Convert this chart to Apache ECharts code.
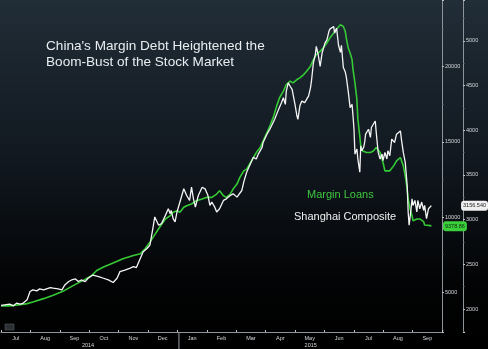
<!DOCTYPE html>
<html><head><meta charset="utf-8">
<script src="https://cdn.jsdelivr.net/npm/echarts@6/dist/echarts.min.js"></script>
<style>html,body{margin:0;padding:0;background:#000}#c{width:488px;height:349px}</style>
</head><body><div id="c"></div>
<script>
const monthLabels = ['Jul','Aug','Sep','Oct','Nov','Dec','Jan','Feb','Mar','Apr','May','Jun','Jul','Aug','Sep'];
const yearLabels  = ['','','2014','','','','','','','','2015','','','',''];
const titleText = "China's Margin Debt Heightened the\nBoom-Bust of the Stock Market";
const legendNames = ['Margin Loans','Shanghai Composite'];
const lastLabels = ['9378.86','3156.540'];

const shDates = ['2014-07-01','2014-07-10','2014-07-14','2014-07-17','2014-07-21','2014-07-24','2014-07-28','2014-07-31','2014-08-03','2014-08-07','2014-08-10','2014-08-14','2014-08-21','2014-08-24','2014-08-29','2014-09-02','2014-09-05','2014-09-09','2014-09-12','2014-09-16','2014-09-19','2014-09-22','2014-09-26','2014-09-29','2014-10-04','2014-10-10','2014-10-15','2014-10-20','2014-10-25','2014-10-29','2014-11-01','2014-11-06','2014-11-11','2014-11-15','2014-11-18','2014-11-22','2014-11-25','2014-11-29','2014-12-02','2014-12-05','2014-12-07','2014-12-11','2014-12-14','2014-12-18','2014-12-21','2014-12-23','2014-12-24','2014-12-26','2014-12-28','2014-12-30','2015-01-02','2015-01-06','2015-01-07','2015-01-09','2015-01-12','2015-01-14','2015-01-16','2015-01-18','2015-01-19','2015-01-21','2015-01-25','2015-01-28','2015-01-31','2015-02-02','2015-02-04','2015-02-07','2015-02-09','2015-02-12','2015-02-16','2015-02-19','2015-02-23','2015-02-26','2015-03-02','2015-03-03','2015-03-07','2015-03-09','2015-03-12','2015-03-15','2015-03-19','2015-03-22','2015-03-24','2015-03-28','2015-03-29','2015-04-02','2015-04-05','2015-04-07','2015-04-10','2015-04-14','2015-04-15','2015-04-17','2015-04-19','2015-04-21','2015-04-22','2015-04-24','2015-04-26','2015-04-28','2015-04-29','2015-05-01','2015-05-03','2015-05-04','2015-05-06','2015-05-08','2015-05-10','2015-05-11','2015-05-15','2015-05-17','2015-05-18','2015-05-20','2015-05-22','2015-05-23','2015-05-25','2015-05-27','2015-05-29','2015-05-30','2015-06-01','2015-06-03','2015-06-05','2015-06-06','2015-06-08','2015-06-10','2015-06-11','2015-06-13','2015-06-15','2015-06-17','2015-06-18','2015-06-20','2015-06-22','2015-06-23','2015-06-25','2015-06-27','2015-06-29','2015-06-30','2015-07-01','2015-07-02','2015-07-04','2015-07-05','2015-07-07','2015-07-08','2015-07-09','2015-07-11','2015-07-12','2015-07-13','2015-07-15','2015-07-16','2015-07-18','2015-07-19','2015-07-21','2015-07-23','2015-07-24','2015-07-26','2015-07-28','2015-07-30','2015-07-31','2015-08-02','2015-08-04','2015-08-05','2015-08-07','2015-08-09','2015-08-11','2015-08-12','2015-08-14','2015-08-16','2015-08-18','2015-08-19','2015-08-21','2015-08-23','2015-08-25','2015-08-26','2015-08-27','2015-08-29','2015-08-30','2015-08-31','2015-09-02','2015-09-04','2015-09-05','2015-09-07','2015-09-09','2015-09-11','2015-09-12','2015-09-14','2015-09-16','2015-09-18','2015-09-19'];
const shValues = [2041,2056,2037,2067,2056,2067,2104,2197,2215,2204,2226,2215,2241,2234,2226,2215,2270,2308,2326,2337,2308,2326,2308,2345,2381,2364,2345,2326,2297,2345,2419,2437,2456,2475,2464,2567,2641,2678,2715,2900,3030,2937,2956,3048,3122,3067,3104,3011,2975,3086,3197,3345,3363,3270,3215,3363,3233,3141,3122,3270,3363,3345,3270,3159,3197,3141,3086,3122,3215,3233,3270,3289,3252,3270,3326,3419,3530,3603,3697,3678,3733,3808,3863,3956,4011,3992,4122,4233,4215,4308,4363,4289,4437,4530,4492,4456,4437,4289,4159,4122,4270,4326,4344,4308,4381,4474,4548,4752,4844,4937,4844,4714,4863,4900,4974,5011,5103,5130,5122,5159,5086,5141,4950,4870,4950,4700,4650,4600,4437,4252,4289,4159,4011,3733,3789,3678,3530,3826,3770,3808,3863,3956,3937,4011,3919,4030,4048,4103,3974,3752,3678,3733,3659,3752,3678,3770,3715,3900,3919,3863,3956,3974,3992,3900,3752,3641,3381,3086,2937,3122,3233,3159,3215,3086,3215,3122,3197,3104,3159,3011,3122,3104,3156.54];

const mlDates = ['2014-07-01','2014-07-10','2014-07-21','2014-07-28','2014-08-03','2014-08-14','2014-08-24','2014-09-03','2014-09-14','2014-09-24','2014-10-03','2014-10-08','2014-10-15','2014-10-25','2014-11-04','2014-11-15','2014-11-22','2014-11-27','2014-12-02','2014-12-12','2014-12-18','2014-12-23','2014-12-26','2014-12-30','2015-01-02','2015-01-06','2015-01-09','2015-01-14','2015-01-19','2015-01-25','2015-01-30','2015-02-04','2015-02-09','2015-02-12','2015-02-16','2015-02-19','2015-02-23','2015-02-26','2015-03-02','2015-03-05','2015-03-09','2015-03-12','2015-03-15','2015-03-19','2015-03-22','2015-03-26','2015-03-29','2015-04-02','2015-04-05','2015-04-09','2015-04-12','2015-04-15','2015-04-19','2015-04-22','2015-04-26','2015-04-29','2015-05-03','2015-05-06','2015-05-10','2015-05-13','2015-05-17','2015-05-20','2015-05-23','2015-05-27','2015-05-30','2015-06-03','2015-06-06','2015-06-10','2015-06-13','2015-06-17','2015-06-18','2015-06-20','2015-06-22','2015-06-23','2015-06-25','2015-06-27','2015-06-29','2015-06-30','2015-07-02','2015-07-04','2015-07-05','2015-07-07','2015-07-08','2015-07-10','2015-07-11','2015-07-14','2015-07-18','2015-07-21','2015-07-24','2015-07-26','2015-07-28','2015-07-30','2015-07-31','2015-08-02','2015-08-04','2015-08-07','2015-08-09','2015-08-11','2015-08-14','2015-08-18','2015-08-19','2015-08-21','2015-08-23','2015-08-25','2015-08-26','2015-08-28','2015-08-30','2015-08-31','2015-09-02','2015-09-04','2015-09-05','2015-09-07','2015-09-09','2015-09-11','2015-09-12','2015-09-14','2015-09-18','2015-09-19'];
const mlValues = [4092,4092,4178,4244,4357,4575,4794,5059,5455,5787,6118,6449,6675,6939,7223,7442,7554,7885,8329,9322,9871,10090,10315,10421,10315,10646,10752,10864,11083,11195,11308,11308,11526,11745,11414,11308,11526,11857,12188,12632,13069,13181,13512,13956,14287,14618,15055,15611,16052,16710,17372,17928,18365,18808,19027,18921,19139,19252,19470,19689,20020,20463,20794,21013,21238,21569,21900,22231,22500,22780,22780,22668,22337,21900,21238,20907,20463,19801,18921,17815,16491,15386,14724,14393,14393,14287,14287,14393,14618,14505,14287,13843,13625,13069,13069,13069,13181,13400,13731,13956,13843,13400,12738,11857,11195,10533,10090,9759,9759,9871,9759,9871,9759,9693,9474,9428,9428,9378.86];

const chart = echarts.init(document.getElementById('c'), null, {renderer:'canvas'});
const axisCol = '#8c9399';
const lblCol = '#d4d8dc';
const fontFam = 'Liberation Sans, Arial, sans-serif';
const plain = v => String(v);

const option = {
  animation: false,
  backgroundColor: {type:'linear', x:0, y:0, x2:0, y2:1, colorStops:[
    {offset:0, color:'#212d37'}, {offset:0.45, color:'#111820'}, {offset:0.8, color:'#030405'}, {offset:1, color:'#000000'}]},
  title: [
    {text: titleText, left: 46, top: 38, padding: 0, textStyle:{color:'#e8edf0', fontFamily:'Liberation Sans', fontWeight:'normal', fontSize:13.6, lineHeight:16}},
    {text: legendNames[0], left: 307, top: 189, padding: 0, textStyle:{color:'#3fc83f', fontFamily:'Liberation Sans', fontWeight:'normal', fontSize:11}},
    {text: legendNames[1], left: 294, top: 211, padding: 0, textStyle:{color:'#f0f0f0', fontFamily:'Liberation Sans', fontWeight:'normal', fontSize:11}}
  ],
  grid: {left: 1, right: 46, top: 0, bottom: 15, containLabel: false},
  xAxis: [
    {type:'category', data: monthLabels, boundaryGap: true, position:'bottom',
     axisLine:{lineStyle:{color:axisCol, width:1}},
     axisTick:{show:true, inside:true, length:2, lineStyle:{color:'#c0c4c8'}},
     axisLabel:{interval:0, hideOverlap:false, color:lblCol, fontSize:5.5, fontFamily:fontFam, margin:3, lineHeight:7,
       formatter:(v, i) => yearLabels[i] ? v + '\n{y' + i + '|' + yearLabels[i] + '}' : v,
       rich:{ y2:{fontSize:5.5, color:lblCol, fontFamily:fontFam, lineHeight:7, padding:[0,0,0,27]},
              y10:{fontSize:5.5, color:lblCol, fontFamily:fontFam, lineHeight:7, padding:[0,0,0,2]} }},
     splitLine:{show:false}},
    {type:'time', min:'2014-07-01', max:'2015-09-30', show:false}
  ],
  yAxis: [
    {type:'value', position:'right', offset:21, min:1744, max:5456, splitNumber:7,
     axisLine:{show:true, lineStyle:{color:axisCol}},
     axisTick:{show:true, length:2, lineStyle:{color:'#c0c4c8'}},
     minorTick:{show:true, splitNumber:2, length:1.5, lineStyle:{color:'#6a7076'}},
     axisLabel:{color:lblCol, fontSize:5.5, fontFamily:fontFam, margin:3, showMinLabel:false, showMaxLabel:false, formatter: plain},
     splitLine:{show:false},
     axisPointer:{show:true, status:'show', value:3156.54, triggerTooltip:false, snap:false,
       lineStyle:{opacity:0}, label:{show:true, formatter:()=>lastLabels[1], backgroundColor:'#f0f0f0', color:'#222', fontSize:5.5, fontFamily:fontFam, padding:[2,2], margin:0}}},
    {type:'value', position:'right', offset:0, min:2357, max:24427, splitNumber:4,
     axisLine:{show:true, lineStyle:{color:axisCol}},
     axisTick:{show:true, length:2, lineStyle:{color:'#c0c4c8'}},
     minorTick:{show:true, splitNumber:2, length:1.5, lineStyle:{color:'#6a7076'}},
     axisLabel:{color:lblCol, fontSize:5.5, fontFamily:fontFam, margin:3, showMinLabel:false, showMaxLabel:false, formatter: plain},
     splitLine:{show:false},
     axisPointer:{show:true, status:'show', value:9378.86, triggerTooltip:false, snap:false,
       lineStyle:{opacity:0}, label:{show:true, formatter:()=>lastLabels[0], backgroundColor:'#3ccf3c', color:'#0a2a0a', fontSize:5.5, fontFamily:fontFam, padding:[2,2], margin:1}}}
  ],
  series: [
    {name: legendNames[0], type:'line', xAxisIndex:1, yAxisIndex:1, showSymbol:false, symbol:'none',
     data: mlDates.map((d,i)=>[d, mlValues[i]]), lineStyle:{color:'#35c935', width:1.6}, z:2},
    {name: legendNames[1], type:'line', xAxisIndex:1, yAxisIndex:0, showSymbol:false, symbol:'none',
     data: shDates.map((d,i)=>[d, shValues[i]]), lineStyle:{color:'#f4f4f4', width:1.3}, z:3}
  ]
};
chart.setOption(option);

// year separator tick at the start of 2015, placed through the time scale
const xJan = chart.convertToPixel({xAxisIndex:1}, '2015-01-01');
const yBase = chart.convertToPixel({yAxisIndex:0}, 1744);
chart.setOption({graphic:[
  {type:'line', shape:{x1:xJan, y1:yBase, x2:xJan, y2:349}, style:{stroke:'#9aa0a5', lineWidth:1}},
  {type:'rect', shape:{x:5, y:324, width:9, height:6}, style:{fill:'#2a2f33', stroke:'#555b60', lineWidth:0.6}}
]});
</script>
</body></html>
